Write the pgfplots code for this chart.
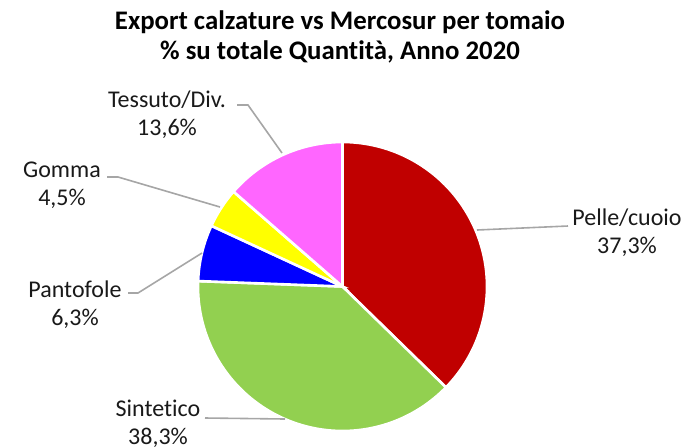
\documentclass[border=0pt]{standalone}
\usepackage{pgfplots}
\pgfplotsset{compat=1.18}
\usepackage{fontspec}
\setmainfont[Ligatures=NoCommon]{Carlito}
\definecolor{cPelle}{HTML}{C00000}
\definecolor{cSint}{HTML}{92D050}
\definecolor{cPant}{HTML}{0000FF}
\definecolor{cGomma}{HTML}{FFFF00}
\definecolor{cTess}{HTML}{FF66FF}
\definecolor{cLine}{HTML}{A6A6A6}
% shares (%)
\def\vPelle{37.3}
\def\vSint{38.3}
\def\vPant{6.3}
\def\vGomma{4.5}
\def\vTess{13.6}
\pgfmathsetmacro{\aA}{90}
\pgfmathsetmacro{\aB}{\aA-3.6*\vPelle}
\pgfmathsetmacro{\aC}{\aB-3.6*\vSint}
\pgfmathsetmacro{\aD}{\aC-3.6*\vPant}
\pgfmathsetmacro{\aE}{\aD-3.6*\vGomma}
\pgfmathsetmacro{\aF}{\aE-3.6*\vTess}
\def\cx{342.5}
\def\cy{160.5}
\def\rr{144.5}
\begin{document}
\begin{tikzpicture}
\useasboundingbox (0,0) rectangle (342pt,223.5pt);
\begin{axis}[
  at={(0,0)}, anchor=south west,
  width=342pt, height=223.5pt, scale only axis,
  xmin=0, xmax=684, ymin=0, ymax=447,
  hide axis, clip=false,
]
\pgfplotsset{slice/.style={draw=white, line width=1.3pt, samples=90, smooth=false, variable=\t}}
\addplot[slice, fill=cPelle, domain=\aA:\aB] ({\cx+\rr*cos(\t)},{\cy+\rr*sin(\t)}) -- (axis cs:\cx,\cy) -- cycle;
\addplot[slice, fill=cSint, domain=\aB:\aC] ({\cx+\rr*cos(\t)},{\cy+\rr*sin(\t)}) -- (axis cs:\cx,\cy) -- cycle;
\addplot[slice, fill=cPant, domain=\aC:\aD, samples=20] ({\cx+\rr*cos(\t)},{\cy+\rr*sin(\t)}) -- (axis cs:\cx,\cy) -- cycle;
\addplot[slice, fill=cGomma, domain=\aD:\aE, samples=20] ({\cx+\rr*cos(\t)},{\cy+\rr*sin(\t)}) -- (axis cs:\cx,\cy) -- cycle;
\addplot[slice, fill=cTess, domain=\aE:\aF, samples=40] ({\cx+\rr*cos(\t)},{\cy+\rr*sin(\t)}) -- (axis cs:\cx,\cy) -- cycle;
% leader lines
\addplot[cLine, line width=0.8pt, no marks] coordinates {(477,217) (568,221)};
\addplot[cLine, line width=0.8pt, no marks] coordinates {(205,29) (285,28)};
\addplot[cLine, line width=0.8pt, no marks] coordinates {(128,154) (138,154) (202,194)};
\addplot[cLine, line width=0.8pt, no marks] coordinates {(107,270) (118,270) (220,240)};
\addplot[cLine, line width=0.8pt, no marks] coordinates {(237,342) (248,342) (282,294)};
% labels
\tikzset{lab/.style={align=center, text=black!90, font=\fontsize{12}{14}\selectfont, inner sep=0pt}}
\node[lab] at (axis cs:627,214.5) {Pelle/cuoio\\37,3\%};
\node[lab] at (axis cs:158,23) {Sintetico\\38,3\%};
\node[lab] at (axis cs:75,142) {Pantofole\\6,3\%};
\node[lab] at (axis cs:62,262) {Gomma\\4,5\%};
\node[lab] at (axis cs:167,332.5) {Tessuto/Div.\\13,6\%};
\node[align=center, font=\bfseries\fontsize{13.4}{15}\selectfont, inner sep=0pt] at (axis cs:340,410) {Export calzature vs Mercosur per tomaio\\\% su totale Quantità, Anno 2020};
\end{axis}
\end{tikzpicture}
\end{document}
